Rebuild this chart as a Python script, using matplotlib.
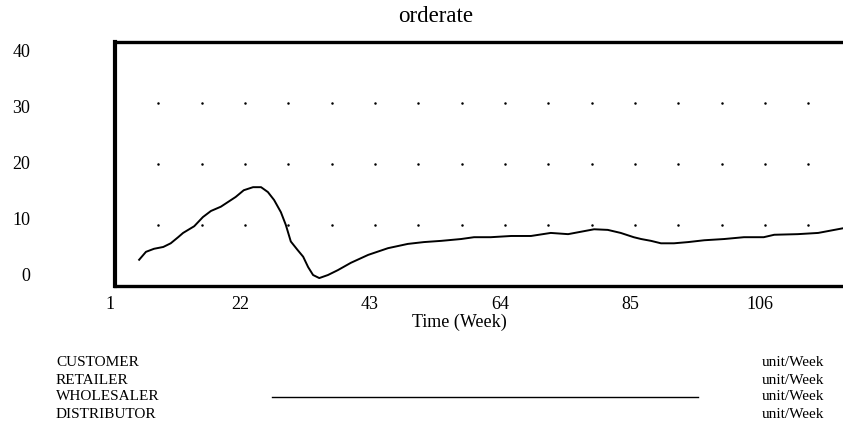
import numpy as np
import matplotlib
matplotlib.use("Agg")
import matplotlib.pyplot as plt
import matplotlib.transforms as mtransforms
from matplotlib.lines import Line2D

plt.rcParams['font.family'] = ['Liberation Serif', 'DejaVu Serif']

# values
weeks = [4.9, 6.0, 7.3, 8.8, 10.0, 11.2, 12.0, 13.8, 15.2, 16.5, 18.1, 19.3,
         20.5, 21.8, 23.3, 24.6, 25.7, 26.7, 27.8, 28.6, 29.4, 30.5, 31.4,
         32.2, 33.0, 34.0, 35.4, 37.0, 39.1, 41.9, 45.1, 48.3, 50.9, 53.7,
         56.9, 59.0, 61.7, 65.0, 68.2, 71.4, 74.2, 76.3, 78.4, 80.6, 82.7,
         84.8, 86.0, 87.6, 89.2, 91.3, 93.6, 96.2, 99.4, 102.6, 105.8, 107.5,
         111.3, 114.6, 118.8]
orderate = [4.3, 5.6, 6.1, 6.4, 7.0, 8.0, 8.7, 9.8, 11.3, 12.3, 13.0, 13.8,
            14.6, 15.7, 16.2, 16.2, 15.4, 14.1, 12.1, 10.0, 7.3, 5.9, 4.8,
            3.1, 1.8, 1.3, 1.8, 2.6, 3.8, 5.1, 6.2, 6.9, 7.2, 7.4,
            7.7, 8.0, 8.0, 8.2, 8.2, 8.7, 8.5, 8.9, 9.3, 9.2, 8.7,
            8.0, 7.7, 7.4, 7.0, 7.0, 7.2, 7.5, 7.7, 8.0, 8.0, 8.4,
            8.5, 8.7, 9.5]

x_ticks = [1, 22, 43, 64, 85, 106]
y_ticks = [0, 10, 20, 30, 40]
grid_x = list(range(8, 119, 7))
grid_y = [10, 20, 30]
series_names = ['CUSTOMER', 'RETAILER', 'WHOLESALER', 'DISTRIBUTOR']
units = 'unit/Week'

W, H = 843, 426
fig = plt.figure(figsize=(W / 100, H / 100), dpi=100)

left, right, top, bottom = 115, 843, 42, 286
ax = fig.add_axes([left / W, 1 - bottom / H, (right - left) / W, (bottom - top) / H])
ax.set_xlim(1, 1 + (right - left) / 6.19)
ax.set_ylim(0, 40)

# dotted grid drawn as points at the intersections
gx, gy = np.meshgrid(grid_x, grid_y)
ax.plot(gx.ravel(), gy.ravel(), 'k.', markersize=1.6, linestyle='none')

ax.plot(weeks, orderate, color='black', linewidth=1.4)

for side in ['left', 'top', 'bottom']:
    ax.spines[side].set_color('black')
ax.spines['left'].set_linewidth(3.0)
ax.spines['top'].set_linewidth(2.4)
ax.spines['bottom'].set_linewidth(2.4)
ax.spines['right'].set_visible(False)

ax.set_xticks(x_ticks)
ax.set_xticklabels([str(v) for v in x_ticks], fontsize=13)
ax.tick_params(axis='x', length=0, pad=7)
shift = mtransforms.ScaledTranslation(-5 / 100, 0, fig.dpi_scale_trans)
for lab in ax.get_xticklabels():
    lab.set_transform(lab.get_transform() + shift)

ax.set_yticks([])
ytrans = mtransforms.blended_transform_factory(fig.transFigure, ax.transData)
for v in y_ticks:
    ax.text(30 / W, v * 0.915 + 1.6, str(v), transform=ytrans, ha='right',
            va='center', fontsize=13, clip_on=False)

fig.text(459 / W, 1 - 322 / H, 'Time (Week)', ha='center', va='center', fontsize=13)
fig.text(436 / W, 1 - 16 / H, 'orderate', ha='center', va='center', fontsize=16.5)

rows = [363, 380, 397, 414]
for name, ry in zip(series_names, rows):
    fig.text(56 / W, 1 - ry / H, name, ha='left', va='center', fontsize=11)
    fig.text(762 / W, 1 - ry / H, units, ha='left', va='center', fontsize=11)
fig.add_artist(Line2D([272 / W, 698 / W], [1 - 397 / H, 1 - 397 / H],
                      color='black', linewidth=1.0))

fig.savefig('out.png', dpi=100)
